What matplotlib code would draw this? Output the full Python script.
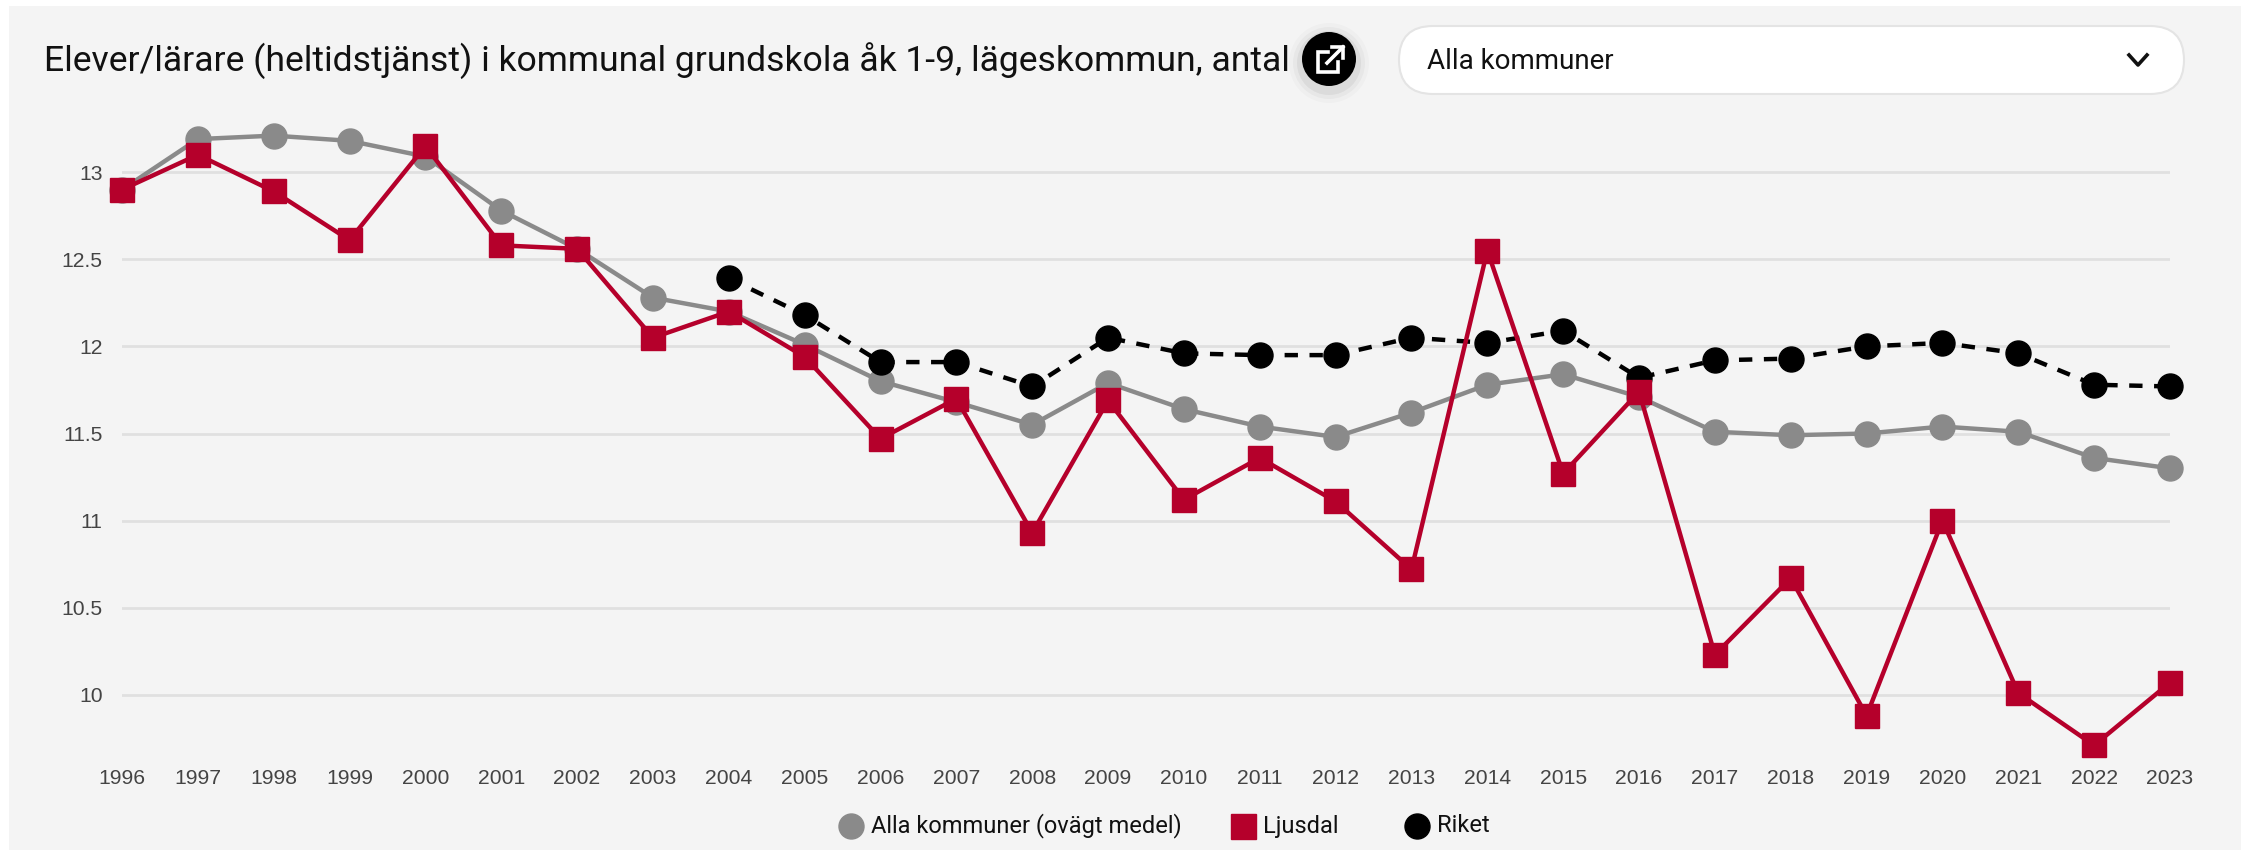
import numpy as np
import matplotlib
matplotlib.use("Agg")
import matplotlib.pyplot as plt
from matplotlib.patches import FancyBboxPatch, Circle, Rectangle

plt.rcParams["font.family"] = ["Roboto", "DejaVu Sans"]

# --- Data ---
years = list(range(1996, 2024))
alla = [12.90, 13.19, 13.21, 13.18, 13.09, 12.78, 12.56, 12.28, 12.20, 12.01,
        11.80, 11.68, 11.55, 11.79, 11.64, 11.54, 11.48, 11.62, 11.78, 11.84,
        11.71, 11.51, 11.49, 11.50, 11.54, 11.51, 11.36, 11.30]
ljusdal = [12.90, 13.10, 12.89, 12.61, 13.15, 12.58, 12.56, 12.05, 12.20, 11.94,
           11.47, 11.70, 10.93, 11.69, 11.12, 11.36, 11.11, 10.72, 12.55, 11.27,
           11.74, 10.23, 10.67, 9.88, 11.00, 10.01, 9.71, 10.07]
riket_years = list(range(2004, 2024))
riket = [12.39, 12.18, 11.91, 11.91, 11.77, 12.05, 11.96, 11.95, 11.95, 12.05,
         12.02, 12.09, 11.82, 11.92, 11.93, 12.00, 12.02, 11.96, 11.78, 11.77]
y_ticks = [10, 10.5, 11, 11.5, 12, 12.5, 13]
y_labels = ["10", "10.5", "11", "11.5", "12", "12.5", "13"]

title = "Elever/lärare (heltidstjänst) i kommunal grundskola åk 1-9, lägeskommun, antal"
dropdown = "Alla kommuner"
legend_labels = ["Alla kommuner (ovägt medel)", "Ljusdal", "Riket"]

W, H = 2249, 850
BG = "#f4f4f4"
GREY = "#8a8a8a"
RED = "#b5002b"

fig = plt.figure(figsize=(W / 100, H / 100), dpi=100, facecolor="white")

# --- Page layer in pixel coordinates ---
page = fig.add_axes([0, 0, 1, 1], zorder=0)
page.set_xlim(0, W)
page.set_ylim(H, 0)
page.axis("off")
page.add_patch(Rectangle((9, 6), 2241 - 9, H - 6, fc=BG, ec="none"))

page.text(44, 61, title, fontsize=25.55, color="#111111", va="center", ha="left")

# share button with soft shadow
for r, a in [(40, 0.02), (36, 0.03), (32, 0.05)]:
    page.add_patch(Circle((1329, 63), r, fc="black", ec="none", alpha=a))
page.add_patch(Circle((1329, 59), 27, fc="black", ec="none"))
page.plot([1328, 1318, 1318, 1338, 1338], [52, 52, 72, 72, 62], color="white", lw=2.6,
          solid_joinstyle="miter")
page.plot([1327, 1343], [63, 47], color="white", lw=2.6)
page.plot([1332, 1343, 1343], [47, 47, 58], color="white", lw=2.6, solid_joinstyle="miter")

# dropdown
page.add_patch(FancyBboxPatch((1399, 26), 785, 68, boxstyle="round,pad=0,rounding_size=34",
                              fc="white", ec="#e4e4e4", lw=1.5))
page.text(1427, 61, dropdown, fontsize=20, color="#111111", va="center", ha="left")
page.plot([2129, 2138, 2147], [55, 65, 55], color="#111111", lw=2.6)

# --- Chart ---
left, right = 122, 2170
top, bottom = 120, 763
px_per_unit = 174.2
y_top = 13 + (172.2 - top) / px_per_unit
y_bot = 13 - (bottom - 172.2) / px_per_unit

ax = fig.add_axes([left / W, 1 - bottom / H, (right - left) / W, (bottom - top) / H], zorder=1)
ax.patch.set_alpha(0)
ax.set_xlim(years[0], years[-1])
ax.set_ylim(y_bot, y_top)
for s in ax.spines.values():
    s.set_visible(False)

ax.set_yticks(y_ticks)
ax.set_yticklabels(y_labels, family="Liberation Sans")
ax.set_xticks(years)
ax.set_xticklabels(years, family="Liberation Sans")
ax.tick_params(axis="both", length=0, labelsize=15.2, labelcolor="#444444")
ax.tick_params(axis="y", pad=14)
ax.tick_params(axis="x", pad=4)
ax.grid(axis="y", color="#e0e0e0", lw=2)
ax.set_axisbelow(True)

ax.plot(years, alla, color=GREY, lw=3.2, marker="o", ms=18, mec=GREY, clip_on=False, zorder=3)
ax.plot(riket_years, riket, color="black", lw=3.2, ls=(0, (3, 2.6)), marker="o", ms=18,
        mec="black", clip_on=False, zorder=4)
ax.plot(years, ljusdal, color=RED, lw=3.2, marker="s", ms=17.7, mec=RED, clip_on=False, zorder=5)

# --- Legend drawn on the page layer ---
leg_y = 826
page.plot([851], [leg_y], marker="o", ms=18, color=GREY, mec=GREY, ls="none")
page.text(871, leg_y, legend_labels[0], fontsize=17, color="#111111", va="center")
page.plot([1243], [leg_y], marker="s", ms=18, color=RED, mec=RED, ls="none")
page.text(1263, leg_y, legend_labels[1], fontsize=17, color="#111111", va="center")
page.plot([1417], [leg_y], marker="o", ms=18, color="black", mec="black", ls="none")
page.text(1437, leg_y, legend_labels[2], fontsize=17, color="#111111", va="center")

fig.savefig("out.png", dpi=100, facecolor=fig.get_facecolor())
